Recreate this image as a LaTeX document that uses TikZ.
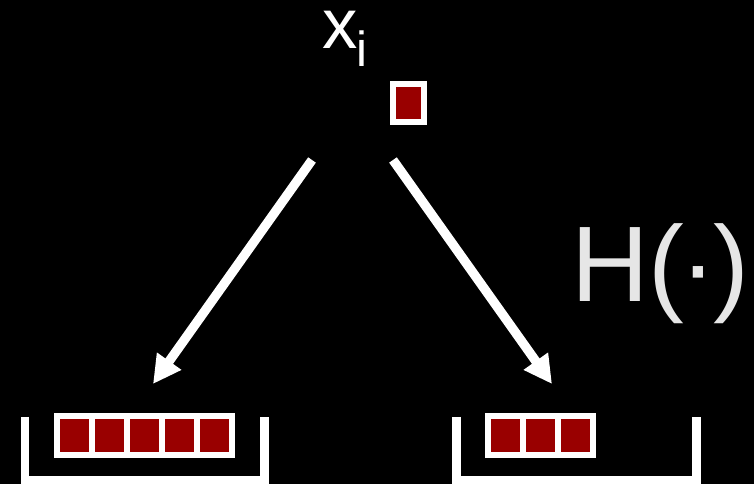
\documentclass[tikz,border=0pt]{standalone}
\usepackage{fontspec}
\setmainfont{Liberation Sans}
\usetikzlibrary{arrows.meta}
\definecolor{cellred}{HTML}{990000}
\definecolor{hgray}{HTML}{E6E6E6}
\begin{document}
\begin{tikzpicture}[x=0.75pt,y=-0.75pt,
  frame/.style={fill=white,draw=none},
  cell/.style={fill=cellred,draw=none},
  bracket/.style={draw=white,line width=6.5pt},
  arr/.style={draw=white,line width=7pt,-{Triangle[length=21pt,width=21pt]}},
  lbl/.style={inner sep=0pt,anchor=base west,text=white},
  hfont/.style={lbl,text=hgray,font=\fontsize{80.6pt}{90pt}\selectfont}]
\fill[black] (0,0) rectangle (754,484);
\useasboundingbox (0,0) rectangle (754,484);
% labels
\node[lbl,text height=0.5em,text depth=0pt,font=\fontsize{53pt}{60pt}\selectfont] (x) at (322,49) {x};
\node[lbl,font=\fontsize{37pt}{42pt}\selectfont] (i) at (356,67) {i};
\node[hfont] (H) at (571,302) {H};
\node[hfont] (lp) at (648,302) {(};
\node[hfont,anchor=base] (dot) at (698,302) {·};
\node[hfont] (rp) at (713,302) {)};
% single element
\fill[frame] (390,81) rectangle (427,125);
\fill[cell] (396,87) rectangle (421,119);
% arrow coordinates
\coordinate (la) at (312,160);
\coordinate (lb) at (153,384);
\coordinate (ra) at (393,160);
\coordinate (rb) at (552,384);
\draw[arr] (la) -- (lb);
\draw[arr] (ra) -- (rb);
% left bucket
\coordinate (l1) at (25,417);
\coordinate (l2) at (25,480);
\coordinate (l3) at (264.5,480);
\coordinate (l4) at (264.5,417);
\draw[bracket] (l1) -- (l2) -- (l3) -- (l4);
\fill[frame] (54,413) rectangle (235,458);
\foreach \k in {0,...,4}{
  \fill[cell] ({60+\k*35},419) rectangle ({89+\k*35},452);
}
% right bucket
\coordinate (r1) at (456.5,417);
\coordinate (r2) at (456.5,480);
\coordinate (r3) at (696.5,480);
\coordinate (r4) at (696.5,417);
\draw[bracket] (r1) -- (r2) -- (r3) -- (r4);
\fill[frame] (485,413) rectangle (596,458);
\foreach \k in {0,...,2}{
  \fill[cell] ({491+\k*35},419) rectangle ({520+\k*35},452);
}
\end{tikzpicture}
\end{document}
